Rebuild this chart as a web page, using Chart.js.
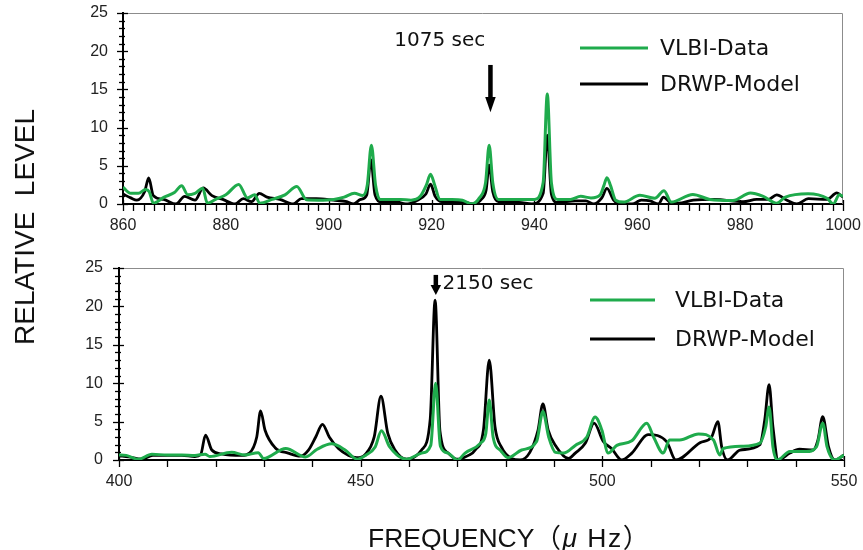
<!DOCTYPE html>
<html>
<head>
<meta charset="utf-8">
<script src="https://cdn.jsdelivr.net/npm/chart.js@4.4.1/dist/chart.umd.min.js"></script>
<style>
  body { margin: 0; background: #fff; width: 863px; height: 550px; overflow: hidden; position: relative; }
  .box { position: absolute; left: 0; width: 863px; }
  #ytitle { position: absolute; left: 25px; top: 227px; transform: translate(-50%, -50%) rotate(-90deg);
            font: 28px "Liberation Sans", Arial, sans-serif; white-space: pre; color: #111; }
  #xtitle { position: absolute; left: 368px; top: 516px; font: 26.5px "Liberation Sans", "Noto Sans CJK JP", sans-serif;
            white-space: pre; color: #111; }
  #xtitle span { letter-spacing: 1.5px; }
</style>
</head>
<body>
<div class="box" style="top:0;height:240px"><canvas id="upper"></canvas></div>
<div class="box" style="top:250px;height:300px"><canvas id="lower"></canvas></div>
<div id="ytitle">RELATIVE  LEVEL</div>
<div id="xtitle">FREQUENCY<span>（<i>μ</i> Hz）</span></div>
<script>
// 上段 860-1000 μHz
const vlbiTopFreq = [860, 861.5, 863, 864.4, 865.1, 865.9, 868, 870, 871.4, 872.6, 874, 875.5, 876.4, 878, 880,
  882.5, 884.2, 885.6, 886.6, 889, 891.5, 893.8, 895.7, 898, 901, 903, 905, 906.6, 907.5, 908.3, 909.1, 910,
  914, 916, 917.8, 919, 919.8, 920.6, 921.6, 924, 926, 927.8, 929.3, 930.5, 931.2, 931.9, 933, 936, 940,
  941.7, 942.5, 943.3, 944.5, 947, 949, 951, 952.8, 953.5, 954.1, 954.8, 955.8, 957.3, 960.5, 963.4, 965.2,
  966.6, 970.8, 974.1, 978.6, 982, 984.5, 987.1, 988.8, 993.2, 996.9, 998.1, 999.3, 1000];
const vlbiTop = [2.2, 1.4, 1.4, 1.9, 1.6, 0.1, 0.9, 1.5, 2.4, 1.2, 1.4, 2.05, 0.1, 0.6, 1.2,
  2.55, 0.8, 1.2, 0.1, 0.6, 1.2, 2.3, 0.55, 0.5, 0.6, 0.9, 1.4, 1.1, 2.5, 7.7, 2.5, 0.6,
  0.6, 0.5, 1.0, 2.5, 3.9, 2.5, 0.6, 0.6, 0.5, 0.0, 0.8, 2.8, 7.7, 2.8, 0.6, 0.6, 0.6,
  2.8, 14.4, 2.8, 0.6, 0.6, 1.0, 0.8, 1.2, 2.4, 3.45, 2.4, 0.5, 0.25, 1.15, 0.75, 1.75,
  0.25, 1.25, 0.6, 0.45, 1.45, 1.0, 0.1, 0.9, 1.35, 0.75, 0.0, 1.2, 1.0];

const drwpTopFreq = [860, 861.5, 862.7, 864.2, 865.0, 865.9, 867.9, 870.3, 872, 874, 875.6, 877.3, 879.4, 881.8,
  883.4, 885, 886.5, 888, 890.5, 893.1, 894.7, 897.6, 900.9, 903.5, 904.8, 906.2, 907.4, 908.2, 909.0, 910.2,
  913, 915, 917, 918.9, 919.8, 920.7, 922, 926, 928, 929.8, 930.6, 931.2, 931.9, 933, 937, 939.5, 941.7,
  942.5, 943.3, 944.5, 948, 950, 951.5, 953.1, 954.1, 955.4, 956.8, 959, 960.8, 962.5, 964.1, 965.1, 966.3,
  968, 970.9, 975, 980.6, 983.2, 985.5, 987.1, 989.1, 991, 993.3, 996.9, 998.8, 1000];
const drwpTop = [1.3, 0.8, 0.5, 1.6, 3.4, 1.1, 0.6, 0.0, 1.0, 0.5, 2.1, 1.1, 0.6, 0.0,
  0.7, 0.3, 1.4, 0.9, 0.6, 0.0, 0.7, 0.7, 0.5, 0.3, 0.0, 0.6, 1.2, 5.8, 1.2, 0.3,
  0.3, 0.0, 0.4, 1.3, 2.6, 1.0, 0.3, 0.3, 0.0, 0.7, 1.8, 5.1, 1.6, 0.3, 0.2, 0.0, 1.4,
  9.0, 1.3, 0.2, 0.4, 0.4, 0.0, 0.8, 2.05, 0.5, 0.0, 0.0, 0.5, 0.4, 0.0, 0.9, 0.25,
  0.1, 0.5, 0.6, 0.3, 0.6, 0.6, 1.2, 0.5, 0.0, 0.7, 0.6, 1.45, 0.9];

// 下段 400-550 μHz
const vlbiLowFreq = [400, 401.5, 404, 406.8, 410, 413, 415.7, 417.8, 418.8, 423.3, 426, 428.8, 429.9, 434.5,
  438.6, 441, 444, 446.8, 449.3, 451, 453, 454.3, 456, 459.5, 462.6, 464.5, 465.5, 466.5, 468.1, 470,
  471.6, 474.8, 475.9, 476.6, 477.4, 479, 480.5, 483.3, 486.4, 487.7, 488.9, 490.3, 492, 494.4, 496.8,
  498.5, 499.9, 501.2, 503, 506.1, 509.2, 510.6, 512.6, 513.9, 516, 519.9, 523, 524.3, 525, 529, 532.6,
  533.8, 534.5, 535.3, 536.2, 538.8, 542.2, 544.3, 545.6, 546.5, 548.1, 550];
const vlbiLow = [0.65, 0.6, 0.1, 0.75, 0.65, 0.65, 0.6, 0.75, 0.45, 1.0, 0.65, 0.95, 0.2, 1.5,
  0.4, 1.4, 2.1, 1.3, 0.1, 0.6, 1.7, 3.8, 1.7, 0.1, 0.9, 1.9, 10.0, 1.8, 0.9, 0.0,
  0.9, 2.2, 3.5, 7.8, 3.0, 1.2, 0.3, 1.3, 2.4, 6.3, 3.0, 1.0, 0.9, 1.9, 3.0,
  5.6, 3.9, 0.9, 1.9, 2.5, 4.8, 3.0, 0.9, 2.6, 2.6, 3.4, 2.6, 0.65, 1.5, 1.8, 2.2,
  4.3, 6.9, 1.7, 0.0, 1.1, 1.1, 1.7, 4.8, 1.7, 0.0, 0.65];

const drwpLowFreq = [400, 402, 404.7, 407, 413, 415.7, 416.9, 417.9, 419.2, 421.2, 425.4, 427, 428.5, 429.3,
  430.2, 432.3, 435, 437.5, 439.2, 440.7, 442.1, 443.5, 445.4, 447.5, 449.2, 450.9, 452.8, 454.2, 455.6,
  457.1, 459.5, 462.6, 464.4, 465.4, 466.4, 468.1, 469.9, 472.3, 473.7, 475.4, 476.6, 477.8, 479.1, 481.2,
  483, 485, 486.7, 487.7, 488.8, 490.3, 493, 494.4, 496.5, 498.3, 500.2, 501.9, 504, 506.1, 509.5, 513.3,
  515.2, 520.2, 522.6, 523.9, 524.7, 525.9, 528.5, 532.6, 533.6, 534.5, 535.3, 536.4, 538.8, 540.8, 543.6,
  544.6, 545.6, 546.8, 548.1, 550];
const drwpLow = [0.55, 0.4, 0.1, 0.6, 0.6, 0.45, 0.7, 3.25, 1.3, 0.8, 0.6, 0.9, 3.0, 6.4,
  3.9, 1.6, 0.9, 0.5, 1.3, 3.0, 4.65, 3.0, 1.5, 0.6, 0.3, 0.7, 3.0, 8.3, 3.5,
  1.3, 0.1, 1.3, 5.4, 20.8, 3.8, 0.9, 0.1, 0.6, 1.3, 3.9, 13.0, 4.3, 1.7, 0.2,
  0.0, 1.0, 3.9, 7.3, 3.9, 1.9, 0.2, 0.9, 2.2, 4.8, 2.4, 1.5, 0.0, 0.9, 3.3, 2.4,
  0.0, 2.25, 3.0, 5.0, 1.7, 0.0, 1.3, 2.0, 5.2, 9.8, 4.3, 0.0, 0.9, 1.4, 1.3,
  2.6, 5.65, 1.7, 0.0, 0.65];

const seriesNames = ['VLBI-Data', 'DRWP-Model'];
const GREEN = '#1fab4c';
const TICK_FONT = '16px "Liberation Sans", Arial, sans-serif';

const pts = (xs, ys) => xs.map((x, i) => ({ x: x, y: ys[i] }));
const onStep = (v, step) => Math.abs(v / step - Math.round(v / step)) < 1e-6;

// 目盛り（主・副）、目盛りラベル、枠
const frameTicks = {
  id: 'frameTicks',
  beforeDatasetsDraw(chart, args, o) {
    const { ctx, chartArea: a } = chart;
    const xs = chart.scales.x, ys = chart.scales.y;
    ctx.save();
    ctx.strokeStyle = '#8c8c8c';
    ctx.lineWidth = 1;
    ctx.beginPath();
    ctx.moveTo(a.left, a.top + 0.5);
    ctx.lineTo(a.right - 0.5, a.top + 0.5);
    ctx.lineTo(a.right - 0.5, a.bottom);
    ctx.stroke();

    ctx.strokeStyle = '#000';
    ctx.lineWidth = 1.3;
    const nx = Math.round((xs.max - xs.min) / o.xMinor);
    for (let k = 0; k <= nx; k++) {
      const v = xs.min + k * o.xMinor;
      const px = Math.round(xs.getPixelForValue(v)) + 0.5;
      const major = onStep(v, o.xMajor);
      ctx.beginPath();
      ctx.moveTo(px, a.bottom - (major ? 4 : 0));
      ctx.lineTo(px, a.bottom + 7);
      ctx.stroke();
    }
    const ny = Math.round((ys.max - ys.min) / o.yMinor);
    for (let k = 0; k <= ny; k++) {
      const v = ys.min + k * o.yMinor;
      const py = Math.round(ys.getPixelForValue(v)) + 0.5;
      const major = onStep(v, o.yMajor);
      ctx.beginPath();
      ctx.moveTo(a.left - (major ? 6 : 4), py);
      ctx.lineTo(a.left + (major ? 5 : 2), py);
      ctx.stroke();
    }

    ctx.fillStyle = '#222';
    ctx.font = TICK_FONT;
    ctx.textBaseline = 'middle';
    ctx.textAlign = 'center';
    xs.ticks.forEach(t => {
      ctx.fillText(String(t.value), xs.getPixelForValue(t.value), a.bottom + o.xGap);
    });
    ctx.textAlign = 'right';
    ys.ticks.forEach(t => {
      ctx.fillText(String(t.value), a.left - o.yGap, ys.getPixelForValue(t.value));
    });
    ctx.restore();
  }
};

// 凡例
const seriesKey = {
  id: 'seriesKey',
  afterDraw(chart, args, o) {
    const ctx = chart.ctx;
    ctx.save();
    ctx.font = '22px "DejaVu Sans", sans-serif';
    ctx.textBaseline = 'middle';
    chart.data.datasets.forEach((ds, i) => {
      const y = o.y + i * o.dy;
      ctx.strokeStyle = ds.borderColor;
      ctx.lineWidth = 3;
      ctx.beginPath();
      ctx.moveTo(o.x, y);
      ctx.lineTo(o.x + o.len, y);
      ctx.stroke();
      ctx.fillStyle = '#111';
      ctx.fillText(ds.label, o.textX, y + 1);
    });
    ctx.restore();
  }
};

// 周期の矢印
const periodMark = {
  id: 'periodMark',
  afterDatasetsDraw(chart, args, o) {
    const ctx = chart.ctx;
    const xs = chart.scales.x, ys = chart.scales.y;
    const x = xs.getPixelForValue(o.freq);
    const yTip = ys.getPixelForValue(o.tip);
    const yBase = ys.getPixelForValue(o.base);
    const yTop = ys.getPixelForValue(o.top);
    ctx.save();
    ctx.fillStyle = '#000';
    ctx.fillRect(x - 2, yTop, 4.5, yBase - yTop + 1);
    ctx.beginPath();
    ctx.moveTo(x - 5, yBase);
    ctx.lineTo(x + 5.5, yBase);
    ctx.lineTo(x + 0.25, yTip);
    ctx.closePath();
    ctx.fill();
    ctx.font = '20px "DejaVu Sans", sans-serif';
    ctx.textBaseline = 'middle';
    ctx.fillStyle = '#111';
    const ty = ys.getPixelForValue(o.textAt);
    if (o.side === 'left') {
      ctx.textAlign = 'right';
      ctx.fillText(o.label, x - 5, ty);
    } else {
      ctx.textAlign = 'left';
      ctx.fillText(o.label, x + 7, ty);
    }
    ctx.restore();
  }
};

function buildChart(id, c) {
  return new Chart(document.getElementById(id), {
    type: 'line',
    data: {
      datasets: [
        { label: seriesNames[0], data: pts(c.vf, c.vy), borderColor: GREEN, borderWidth: 3 },
        { label: seriesNames[1], data: pts(c.df, c.dy), borderColor: '#000', borderWidth: 2.8 }
      ]
    },
    options: {
      responsive: true,
      maintainAspectRatio: false,
      animation: false,
      layout: { padding: c.padding },
      elements: {
        point: { radius: 0 },
        line: { cubicInterpolationMode: 'monotone', fill: false }
      },
      scales: {
        x: {
          type: 'linear', min: c.xMin, max: c.xMax,
          grid: { display: false, drawTicks: false },
          border: { color: '#000', width: 2 },
          ticks: { display: false, stepSize: c.xStep, autoSkip: false },
          afterFit: s => { s.height = c.xH; }
        },
        y: {
          min: 0, max: 25,
          grid: { display: false, drawTicks: false },
          border: { color: '#000', width: 2 },
          ticks: { display: false, stepSize: 5 },
          afterFit: s => { s.width = c.yW; }
        }
      },
      plugins: {
        legend: { display: false },
        tooltip: { enabled: false },
        frameTicks: c.ticks,
        seriesKey: c.key,
        periodMark: c.mark
      }
    },
    plugins: [frameTicks, seriesKey, periodMark]
  });
}

buildChart('upper', {
  vf: vlbiTopFreq, vy: vlbiTop, df: drwpTopFreq, dy: drwpTop,
  xMin: 860, xMax: 1000, xStep: 20, xH: 36, yW: 123,
  padding: { left: 0, top: 13, right: 20, bottom: 0 },
  ticks: { xMinor: 2, xMajor: 20, yMinor: 1, yMajor: 5, xGap: 22, yGap: 15 },
  key: { x: 580, y: 48, dy: 36, len: 68, textX: 660 },
  mark: { freq: 931.4, tip: 12.0, base: 14.0, top: 18.2, textAt: 21.4, label: '1075 sec', side: 'left' }
});

buildChart('lower', {
  vf: vlbiLowFreq, vy: vlbiLow, df: drwpLowFreq, dy: drwpLow,
  xMin: 400, xMax: 550, xStep: 50, xH: 90, yW: 119,
  padding: { left: 0, top: 18, right: 19, bottom: 0 },
  ticks: { xMinor: 10, xMajor: 50, yMinor: 1, yMajor: 5, xGap: 22, yGap: 16 },
  key: { x: 590, y: 50, dy: 39, len: 65, textX: 675 },
  mark: { freq: 465.5, tip: 21.5, base: 22.8, top: 24.1, textAt: 22.9, label: '2150 sec', side: 'right' }
});
</script>
</body>
</html>
